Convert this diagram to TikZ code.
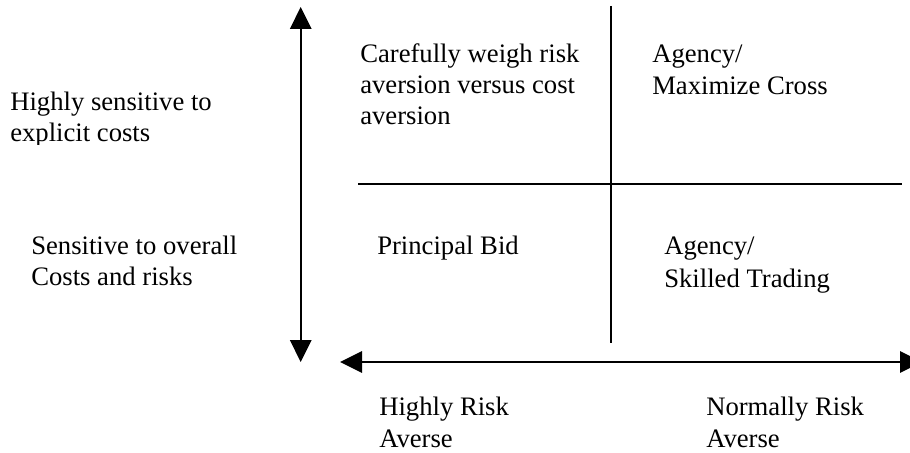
\documentclass[tikz,border=0pt]{standalone}
\usepackage{fontspec}
\setmainfont{Liberation Serif}
\usetikzlibrary{arrows.meta}
\begin{document}
\begin{tikzpicture}[x=0.75pt,y=-0.75pt,
  axis/.style={line width=1.5pt,
    {Triangle[length=16.5pt,width=16pt]}-{Triangle[length=16.5pt,width=16pt]}},
  divider/.style={line width=1.5pt},
  lbl/.style={anchor=base west, inner sep=0pt,
    font=\fontsize{20pt}{23pt}\selectfont}]
\useasboundingbox (0,0) rectangle (910,453);
\clip (0,0) rectangle (910,453);

% axis end points
\coordinate (vtop) at (300.7,7);
\coordinate (vbot) at (300.7,362);
\coordinate (hleft) at (340,362);
\coordinate (hright) at (922,362);
% quadrant dividers
\coordinate (qtop) at (610.7,6);
\coordinate (qbot) at (610.7,343);
\coordinate (qleft) at (358,184);
\coordinate (qright) at (902,184);

\draw[axis] (vtop) -- (vbot);
\draw[axis] (hleft) -- (hright);
\draw[divider] (qtop) -- (qbot);
\draw[divider] (qleft) -- (qright);

% vertical axis labels
\begin{scope}
  \clip (0,0) rectangle (300,144);
  \node[lbl] (hs1) at (10,110) {Highly sensitive to};
  \node[lbl] (hs2) at (10,141) {explicit costs};
\end{scope}
\node[lbl] (so1) at (31,254) {Sensitive to overall};
\node[lbl] (so2) at (31,285) {Costs and risks};

% quadrant contents
\node[lbl] (cw1) at (360,63) {Carefully weigh risk};
\node[lbl] (cw2) at (360,93.5) {aversion versus cost};
\node[lbl] (cw3) at (360,124) {aversion};
\node[lbl] (am1) at (652,63) {Agency/};
\node[lbl] (am2) at (652,94) {Maximize Cross};
\node[lbl] (pb) at (377,254) {Principal Bid};
\node[lbl] (as1) at (664,254) {Agency/};
\node[lbl] (as2) at (664,287) {Skilled Trading};

% horizontal axis labels
\node[lbl] (hr1) at (379,415) {Highly Risk};
\node[lbl] (hr2) at (379,447) {Averse};
\node[lbl] (nr1) at (706,415) {Normally Risk};
\node[lbl] (nr2) at (706,447) {Averse};
\end{tikzpicture}
\end{document}
